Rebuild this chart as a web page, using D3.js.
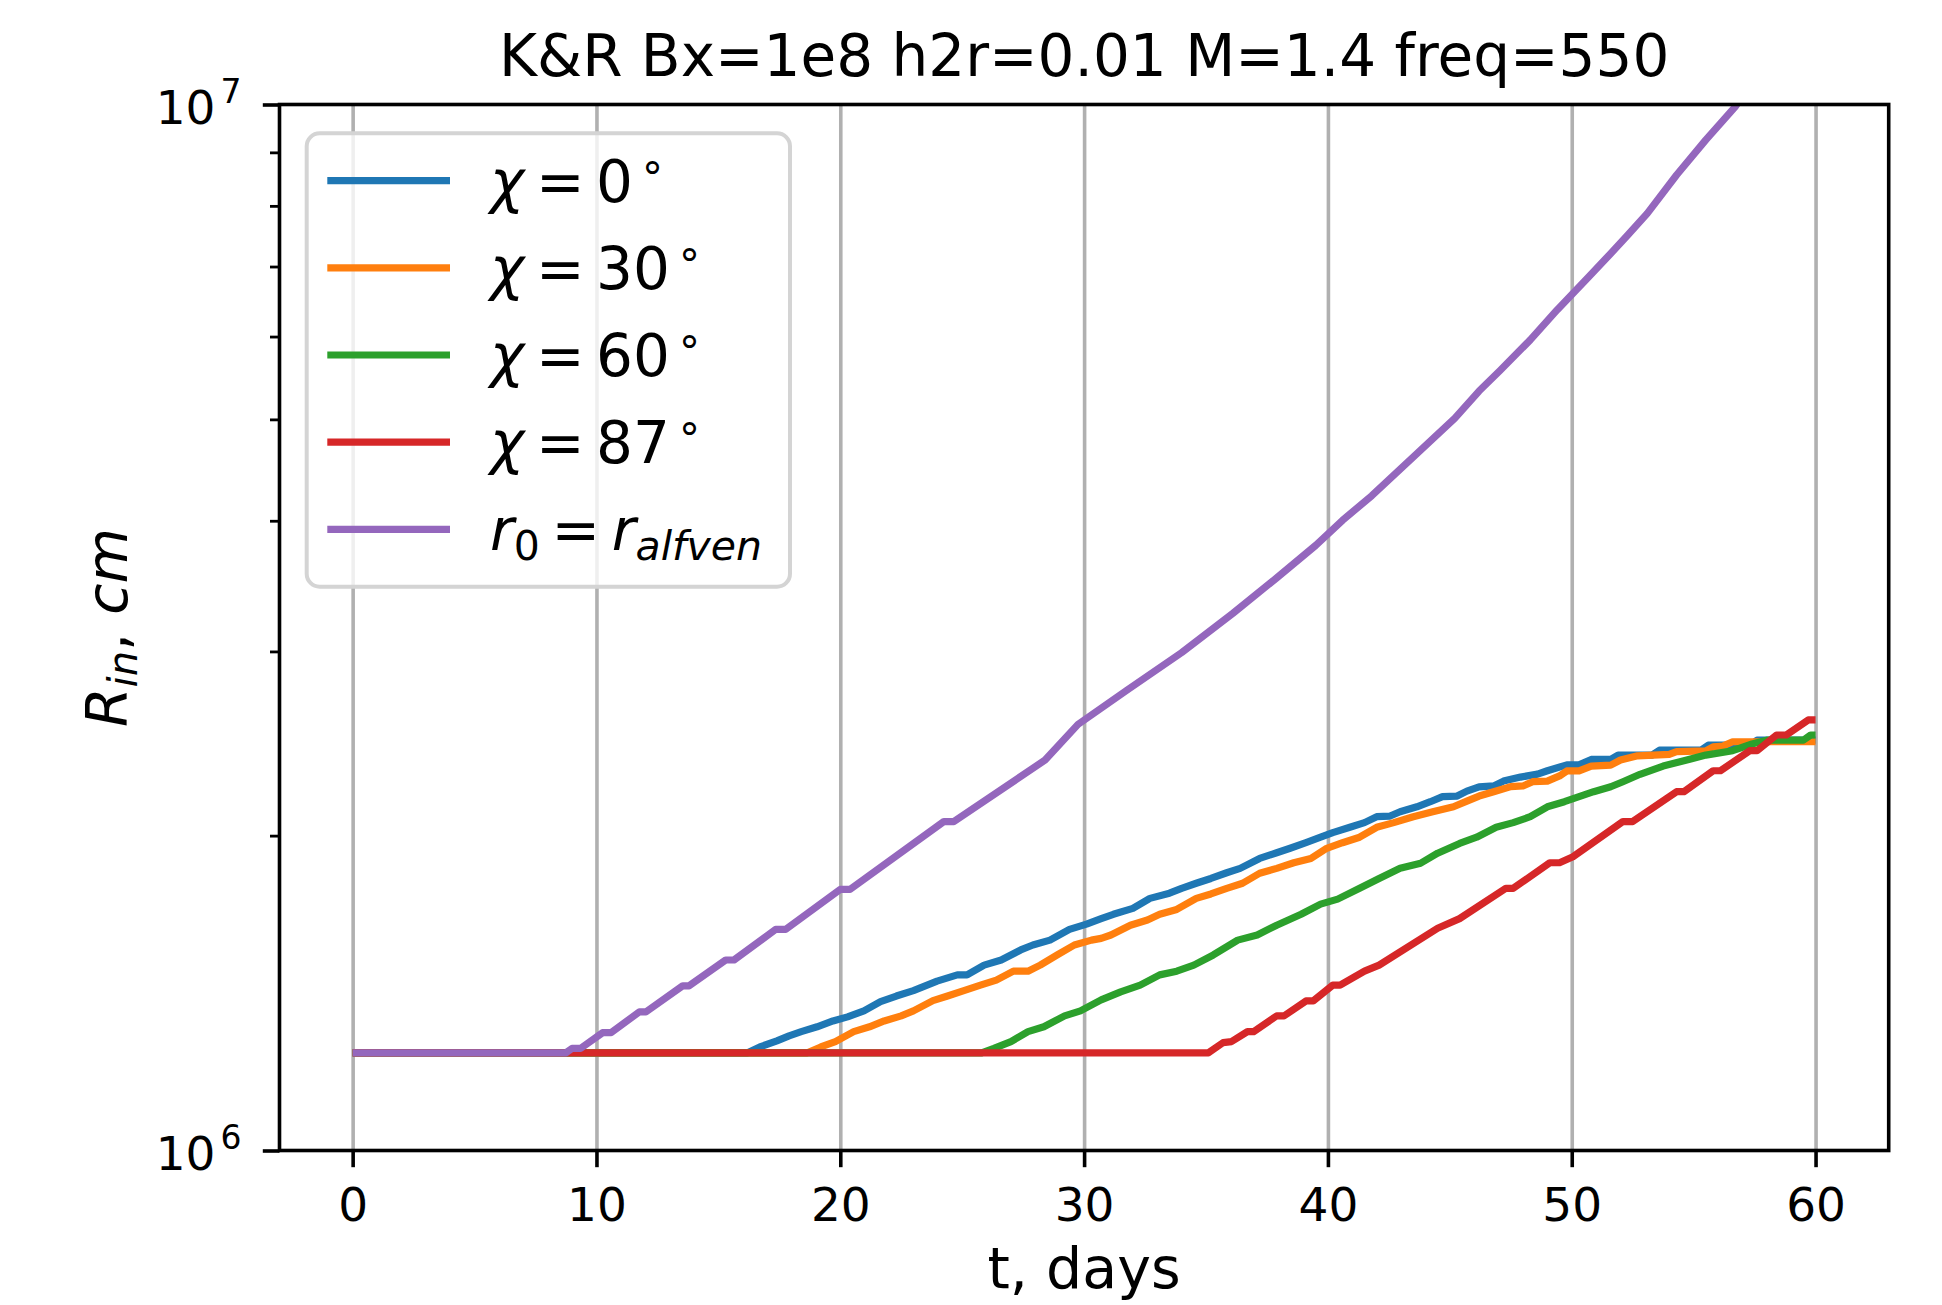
<!DOCTYPE html>
<html>
<head>
<meta charset="utf-8">
<script src="https://cdnjs.cloudflare.com/ajax/libs/d3/7.8.5/d3.min.js"></script>
<style>
  body { margin: 0; background: #fff; }
  svg text { font-family: "DejaVu Sans", sans-serif; fill: #000; }
</style>
</head>
<body>
<div id="chart-area"></div>
<script>
// R_in values in units of 1e6 cm, t in days
var chi0 = [[0,1.240],[16.2,1.240],[16.7,1.256],[17.4,1.273],[17.9,1.287],[18.4,1.299],[19.05,1.313],[19.7,1.330],[20.3,1.342],[20.97,1.360],[21.65,1.388],[22.3,1.405],[23.0,1.422],[23.97,1.452],[24.8,1.472],[25.2,1.472],[25.9,1.504],[26.6,1.521],[27.4,1.555],[27.9,1.572],[28.6,1.589],[29.4,1.627],[30.1,1.646],[30.7,1.666],[31.2,1.682],[32.0,1.704],[32.7,1.742],[33.5,1.762],[34.0,1.781],[34.6,1.801],[35.2,1.820],[35.85,1.843],[36.4,1.861],[37.2,1.902],[37.9,1.926],[38.45,1.945],[39.1,1.969],[39.7,1.993],[40.2,2.013],[40.9,2.037],[41.5,2.058],[42.0,2.085],[42.55,2.088],[42.96,2.108],[43.65,2.131],[44.2,2.155],[44.7,2.179],[45.3,2.182],[45.7,2.206],[46.2,2.227],[46.8,2.231],[47.2,2.255],[47.9,2.275],[48.6,2.290],[49.0,2.307],[49.8,2.337],[50.3,2.337],[50.8,2.365],[51.6,2.366],[51.9,2.388],[53.3,2.388],[53.6,2.414],[55.3,2.414],[55.6,2.441],[57.3,2.441],[57.6,2.468],[60,2.468]];

var chi30 = [[0,1.240],[18.65,1.240],[19.2,1.256],[19.8,1.271],[20.55,1.299],[21.2,1.313],[21.8,1.330],[22.5,1.345],[23.0,1.360],[23.8,1.391],[24.4,1.405],[25.07,1.422],[25.75,1.439],[26.4,1.455],[27.1,1.484],[27.7,1.484],[28.2,1.504],[28.9,1.538],[29.6,1.572],[30.3,1.589],[30.7,1.595],[31.1,1.607],[31.9,1.642],[32.6,1.661],[33.1,1.682],[33.8,1.700],[34.6,1.742],[35.2,1.759],[35.85,1.781],[36.5,1.801],[37.2,1.841],[37.9,1.861],[38.6,1.884],[39.3,1.902],[39.95,1.945],[40.6,1.969],[41.3,1.993],[42.0,2.037],[42.7,2.058],[43.5,2.085],[44.3,2.108],[45.15,2.131],[45.7,2.158],[46.2,2.182],[46.8,2.203],[47.5,2.228],[48.0,2.231],[48.4,2.252],[49.0,2.255],[49.5,2.281],[49.8,2.306],[50.3,2.306],[50.8,2.331],[51.6,2.336],[52.0,2.362],[52.7,2.384],[54.0,2.392],[54.3,2.406],[55.5,2.410],[55.8,2.432],[56.2,2.436],[56.6,2.459],[60,2.459]];

var chi60 = [[0,1.240],[25.8,1.240],[26.3,1.252],[27.0,1.271],[27.7,1.299],[28.35,1.313],[29.2,1.345],[29.85,1.360],[30.7,1.393],[31.5,1.418],[32.3,1.439],[33.1,1.472],[33.8,1.484],[34.5,1.504],[35.3,1.538],[36.3,1.589],[37.1,1.607],[37.9,1.642],[38.9,1.682],[39.7,1.720],[40.4,1.739],[41.3,1.781],[42.1,1.820],[42.96,1.861],[43.8,1.882],[44.5,1.924],[45.4,1.966],[46.1,1.993],[46.9,2.037],[47.6,2.058],[48.3,2.085],[49.0,2.131],[49.7,2.155],[50.3,2.179],[50.9,2.203],[51.6,2.227],[52.1,2.252],[52.8,2.289],[53.75,2.331],[54.6,2.358],[55.5,2.388],[56.6,2.411],[57.4,2.447],[58.0,2.468],[59.5,2.468],[59.8,2.496],[60,2.496]];

var chi87 = [[0,1.240],[35.1,1.240],[35.7,1.268],[36.05,1.271],[36.7,1.299],[36.95,1.299],[37.9,1.345],[38.2,1.345],[39.1,1.390],[39.4,1.390],[40.2,1.439],[40.5,1.439],[41.5,1.484],[42.1,1.504],[44.5,1.631],[45.4,1.666],[47.3,1.781],[47.6,1.781],[49.1,1.884],[49.5,1.884],[50.05,1.909],[52.1,2.063],[52.5,2.063],[54.3,2.203],[54.6,2.203],[55.8,2.307],[56.1,2.307],[57.3,2.411],[57.6,2.411],[58.4,2.496],[58.8,2.496],[59.7,2.580],[60,2.580]];

var alfven = [[0,1.240],[8.75,1.240],[9.0,1.252],[9.35,1.252],[10.25,1.296],[10.6,1.296],[11.76,1.357],[12.03,1.357],[13.54,1.437],[13.8,1.437],[15.3,1.521],[15.64,1.521],[17.35,1.627],[17.76,1.627],[20.0,1.777],[20.4,1.777],[24.25,2.063],[24.66,2.063],[28.4,2.362],[29.75,2.555],[31.76,2.755],[34.0,2.992],[36.1,3.262],[37.9,3.527],[39.5,3.789],[40.6,4.004],[41.8,4.227],[43.65,4.638],[45.2,5.012],[46.2,5.322],[47.06,5.568],[48.3,5.956],[49.4,6.362],[50.7,6.844],[51.6,7.205],[52.3,7.502],[53.1,7.870],[54.3,8.563],[55.5,9.25],[56.7,9.95],[57.3,10.4]];

var colours = ["#1f77b4", "#ff7f0e", "#2ca02c", "#d62728", "#9467bd"];
var xTicks = [0, 10, 20, 30, 40, 50, 60];
var yMajor = [1e6, 1e7];
var yMinor = [2e6, 3e6, 4e6, 5e6, 6e6, 7e6, 8e6, 9e6];

// legend labels split in parts so the math-like pieces can be styled
var legendLabels = [
  [{t: "χ", i: true}, {t: "\u2009=\u2009"}, {t: "0"}, {t: "°", deg: true}],
  [{t: "χ", i: true}, {t: "\u2009=\u2009"}, {t: "30"}, {t: "°", deg: true}],
  [{t: "χ", i: true}, {t: "\u2009=\u2009"}, {t: "60"}, {t: "°", deg: true}],
  [{t: "χ", i: true}, {t: "\u2009=\u2009"}, {t: "87"}, {t: "°", deg: true}],
  [{t: "r", i: true}, {t: "0", sub: true}, {t: "\u2009=\u2009"}, {t: "r", i: true}, {t: "alfven", i: true, sub: true}]
];

var series = [chi0, chi30, chi60, chi87, alfven];

var width = 1942, height = 1305;
var margin = {top: 104.5, right: 53.3, bottom: 154.5, left: 279.5};

var svg = d3.select("#chart-area").append("svg")
  .attr("width", width)
  .attr("height", height);

var x = d3.scaleLinear()
  .domain([-3, 63])
  .range([margin.left, width - margin.right]);

var y = d3.scaleLog()
  .domain([1e6, 1e7])
  .range([height - margin.bottom, margin.top]);

var plotH = height - margin.bottom - margin.top;

svg.append("clipPath").attr("id", "plotClip")
  .append("rect")
  .attr("x", margin.left).attr("y", margin.top)
  .attr("width", width - margin.right - margin.left)
  .attr("height", plotH);

// vertical grid lines
var grid = svg.append("g")
  .attr("transform", `translate(0, ${height - margin.bottom})`)
  .call(d3.axisBottom(x).tickValues(xTicks).tickSize(-plotH).tickFormat(""));
grid.select(".domain").remove();
grid.selectAll("line").attr("stroke", "#b0b0b0").attr("stroke-width", 3.6);

// curves
var line = d3.line()
  .x(d => x(d[0]))
  .y(d => y(d[1] * 1e6));

svg.append("g")
  .attr("clip-path", "url(#plotClip)")
  .selectAll("path")
  .data(series)
  .enter()
  .append("path")
  .attr("d", line)
  .attr("fill", "none")
  .attr("stroke", (d, i) => colours[i])
  .attr("stroke-width", 7.2)
  .attr("stroke-linejoin", "round")
  .attr("stroke-linecap", "butt");

// x axis
var xAxis = svg.append("g")
  .attr("transform", `translate(0, ${height - margin.bottom})`)
  .call(d3.axisBottom(x).tickValues(xTicks).tickSize(16.7).tickFormat(d3.format("d")));
xAxis.select(".domain").remove();
xAxis.selectAll("line").attr("stroke", "#000").attr("stroke-width", 3.6);
xAxis.selectAll("text")
  .attr("y", 70)
  .attr("dy", null)
  .attr("font-size", 47)
  .attr("font-family", "DejaVu Sans");

// y axis, major ticks with 10^n labels
var yAxis = svg.append("g")
  .attr("transform", `translate(${margin.left}, 0)`)
  .call(d3.axisLeft(y).tickValues(yMajor).tickSize(16.7).tickFormat(""));
yAxis.select(".domain").remove();
yAxis.selectAll("line").attr("stroke", "#000").attr("stroke-width", 3.6);
var yLab = yAxis.selectAll(".tick").append("text")
  .attr("x", -38)
  .attr("y", 19)
  .attr("text-anchor", "end")
  .attr("fill", "#000")
  .attr("font-size", 47)
  .attr("font-family", "DejaVu Sans");
yLab.append("tspan").text("10");
yLab.append("tspan")
  .attr("dx", 5)
  .attr("dy", -21)
  .attr("font-size", 33)
  .text(d => Math.round(Math.log10(d)));

var yMinorAxis = svg.append("g")
  .attr("transform", `translate(${margin.left}, 0)`)
  .call(d3.axisLeft(y).tickValues(yMinor).tickSize(9.5).tickFormat(""));
yMinorAxis.select(".domain").remove();
yMinorAxis.selectAll("line").attr("stroke", "#000").attr("stroke-width", 2.8);

// spines
svg.append("rect")
  .attr("x", margin.left).attr("y", margin.top)
  .attr("width", width - margin.right - margin.left)
  .attr("height", plotH)
  .attr("fill", "none")
  .attr("stroke", "#000")
  .attr("stroke-width", 3.6);

// title and axis labels
svg.append("text")
  .attr("x", (margin.left + width - margin.right) / 2)
  .attr("y", 76)
  .attr("text-anchor", "middle")
  .attr("font-size", 58)
  .text("K&R Bx=1e8 h2r=0.01 M=1.4 freq=550");

svg.append("text")
  .attr("x", (margin.left + width - margin.right) / 2)
  .attr("y", 1288)
  .attr("text-anchor", "middle")
  .attr("font-size", 57)
  .text("t, days");

var yTitle = svg.append("text")
  .attr("transform", `translate(127, ${margin.top + plotH / 2}) rotate(-90)`)
  .attr("text-anchor", "middle")
  .attr("font-size", 57);
yTitle.append("tspan").attr("font-style", "italic").text("R");
yTitle.append("tspan").attr("font-style", "italic").attr("font-size", 40).attr("dy", 10).text("in");
yTitle.append("tspan").attr("dy", -10).text(", ");
yTitle.append("tspan").attr("font-style", "italic").text("cm");

// legend
var legend = svg.append("g");
legend.append("rect")
  .attr("x", 306.7).attr("y", 133.3)
  .attr("width", 483.3).attr("height", 453.4)
  .attr("rx", 13)
  .attr("fill", "#fff")
  .attr("fill-opacity", 0.8)
  .attr("stroke", "#d4d4d4")
  .attr("stroke-width", 4);

var rowY = d => 180.7 + d * 87.15;

legend.selectAll("line.key")
  .data(legendLabels)
  .enter()
  .append("line")
  .attr("class", "key")
  .attr("x1", 327.3).attr("x2", 450)
  .attr("y1", (d, i) => rowY(i)).attr("y2", (d, i) => rowY(i))
  .attr("stroke", (d, i) => colours[i])
  .attr("stroke-width", 7.2);

legend.selectAll("text.lab")
  .data(legendLabels)
  .enter()
  .append("text")
  .attr("class", "lab")
  .attr("x", 490)
  .attr("y", (d, i) => rowY(i) + 21)
  .attr("font-size", 58)
  .each(function(parts) {
    var t = d3.select(this);
    var shifted = 0;
    parts.forEach(p => {
      var s = t.append("tspan").text(p.t);
      if (p.i) s.attr("font-style", "italic");
      var want = p.sub ? 10 : (p.deg ? -9 : 0);
      if (want !== shifted) { s.attr("dy", want - shifted); shifted = want; }
      if (p.sub) s.attr("font-size", 41);
      if (p.deg) s.attr("font-size", 42).attr("dx", 9);
    });
  });
</script>
</body>
</html>
